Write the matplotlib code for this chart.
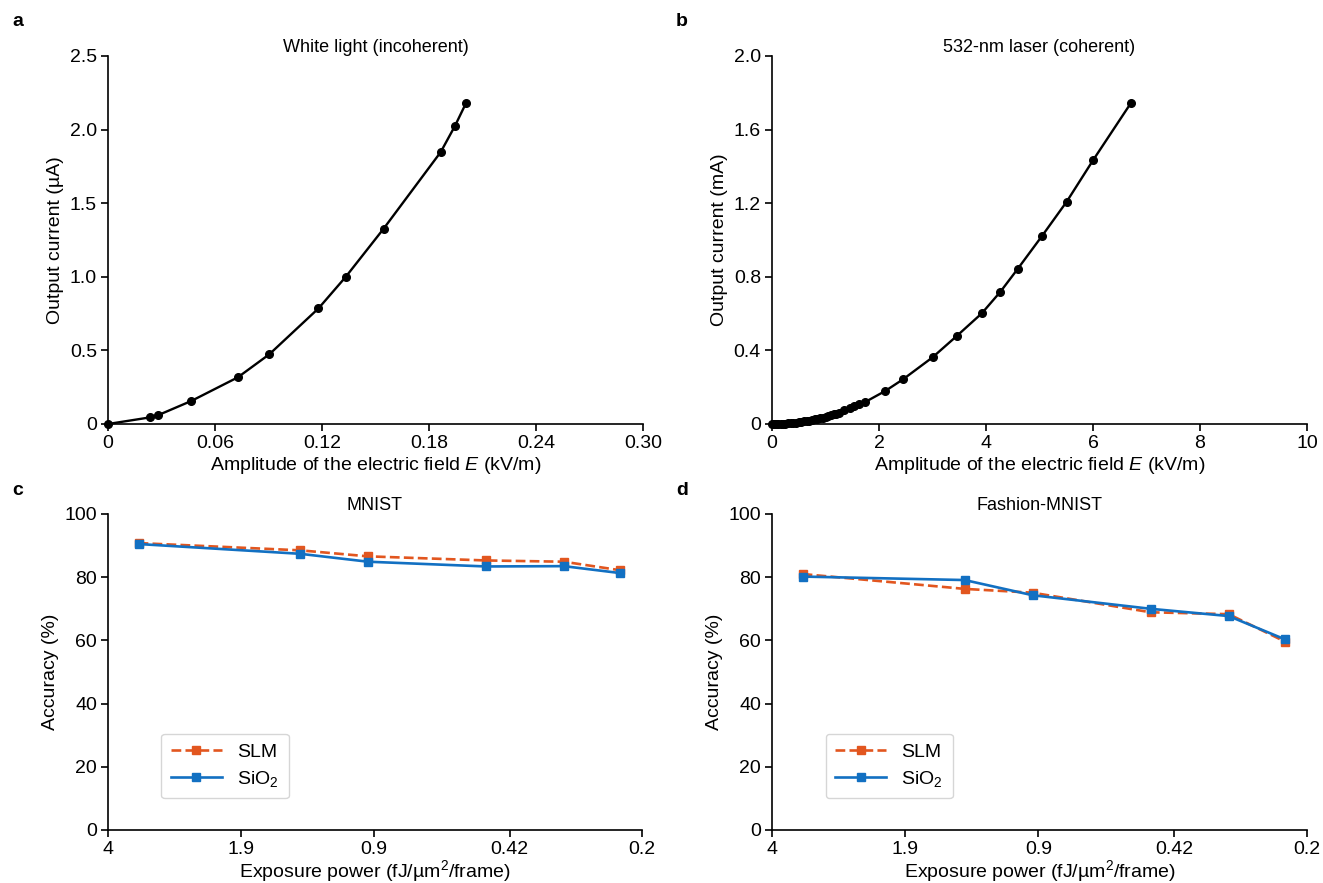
import matplotlib
matplotlib.use('Agg')
import matplotlib.pyplot as plt

plt.rcParams['font.family'] = ['Liberation Sans', 'DejaVu Sans']
plt.rcParams['mathtext.fontset'] = 'custom'
plt.rcParams['mathtext.rm'] = 'Liberation Sans'
plt.rcParams['mathtext.it'] = 'Liberation Sans:italic'
plt.rcParams['font.size'] = 13

# panel a: white light
white_E = [0, 0.0236, 0.0283, 0.0468, 0.0728, 0.0905, 0.118, 0.1332, 0.1545, 0.1866, 0.1946, 0.2008]
white_I = [0, 0.045, 0.061, 0.157, 0.317, 0.474, 0.785, 0.998, 1.326, 1.848, 2.026, 2.181]

# panel b: 532-nm laser
laser_E = [0.0, 0.03, 0.06, 0.09, 0.12, 0.16, 0.2, 0.25, 0.3, 0.35, 0.4, 0.45, 0.5, 0.55, 0.6,
           0.65, 0.7, 0.75, 0.8, 0.85, 0.9, 0.95, 1.0, 1.05, 1.1, 1.15, 1.2, 1.25,
           1.34, 1.45, 1.54, 1.635, 1.745, 2.12, 2.45, 3.0, 3.46, 3.92, 4.27, 4.59,
           5.05, 5.51, 6.0, 6.71]
laser_I = [0.0, 0.0, 0.0001, 0.0003, 0.0006, 0.001, 0.0016, 0.0024, 0.0035, 0.0048, 0.0062,
           0.0079, 0.0098, 0.0118, 0.014, 0.0165, 0.019, 0.022, 0.025, 0.028, 0.032,
           0.035, 0.039, 0.043, 0.047, 0.052, 0.056, 0.061, 0.074, 0.086, 0.097, 0.108,
           0.120, 0.180, 0.243, 0.362, 0.480, 0.601, 0.719, 0.842, 1.023, 1.209, 1.433, 1.745]

# panels c, d: accuracy vs exposure power
exposure = [3.37, 1.36, 0.93, 0.48, 0.31, 0.226]
exp_ticks = [4, 1.9, 0.9, 0.42, 0.2]
mnist_slm = [90.8, 88.5, 86.6, 85.3, 84.9, 82.2]
mnist_sio2 = [90.5, 87.4, 84.9, 83.4, 83.5, 81.3]
fashion_slm = [81.0, 76.3, 75.1, 68.9, 68.3, 59.6]
fashion_sio2 = [80.2, 79.1, 74.3, 70.0, 67.7, 60.3]

SLM_C = '#E2561F'
SIO2_C = '#1270C2'

W, H = 1323, 883
fig = plt.figure(figsize=(W / 100, H / 100), dpi=100)


def box(l, t, r, b):
    return [l / W, 1 - b / H, (r - l) / W, (b - t) / H]


def style(ax):
    for s in ['top', 'right']:
        ax.spines[s].set_visible(False)
    for s in ['left', 'bottom']:
        ax.spines[s].set_linewidth(1.2)
    ax.tick_params(direction='out', length=5, width=1.2, labelsize=14, pad=3)


ax_a = fig.add_axes(box(108, 56, 643, 424))
ax_b = fig.add_axes(box(772, 56, 1307, 424))
ax_c = fig.add_axes(box(108, 514, 642, 830))
ax_d = fig.add_axes(box(772, 514, 1307, 830))

LBL = 14

ax_a.plot(white_E, white_I, color='black', lw=1.7, marker='o', ms=5.5, clip_on=False, zorder=3)
ax_a.set_xlim(0, 0.30)
ax_a.set_ylim(0, 2.5)
ax_a.set_xticks([0, 0.06, 0.12, 0.18, 0.24, 0.30])
ax_a.set_xticklabels(['0', '0.06', '0.12', '0.18', '0.24', '0.30'])
ax_a.set_yticks([0, 0.5, 1.0, 1.5, 2.0, 2.5])
ax_a.set_yticklabels(['0', '0.5', '1.0', '1.5', '2.0', '2.5'])
ax_a.set_xlabel('Amplitude of the electric field $E$ (kV/m)', fontsize=LBL, labelpad=2)
ax_a.set_ylabel('Output current (µA)', fontsize=LBL)
ax_a.set_title('White light (incoherent)', fontsize=13, pad=3)

ax_b.plot(laser_E, laser_I, color='black', lw=1.7, marker='o', ms=5.5, clip_on=False, zorder=3)
ax_b.set_xlim(0, 10)
ax_b.set_ylim(0, 2.0)
ax_b.set_xticks([0, 2, 4, 6, 8, 10])
ax_b.set_yticks([0, 0.4, 0.8, 1.2, 1.6, 2.0])
ax_b.set_yticklabels(['0', '0.4', '0.8', '1.2', '1.6', '2.0'])
ax_b.set_xlabel('Amplitude of the electric field $E$ (kV/m)', fontsize=LBL, labelpad=2)
ax_b.set_ylabel('Output current (mA)', fontsize=LBL)
ax_b.set_title('532-nm laser (coherent)', fontsize=13, pad=3)

for ax, slm, sio2, title in [(ax_c, mnist_slm, mnist_sio2, 'MNIST'),
                             (ax_d, fashion_slm, fashion_sio2, 'Fashion-MNIST')]:
    ax.plot(exposure, slm, color=SLM_C, ls='--', lw=1.9, marker='s', ms=5.5, label='SLM')
    ax.plot(exposure, sio2, color=SIO2_C, ls='-', lw=1.9, marker='s', ms=5.5, label='SiO$_2$')
    ax.set_xscale('log')
    ax.set_xlim(4, 0.2)
    ax.set_xticks(exp_ticks)
    ax.set_xticklabels([str(v) for v in exp_ticks])
    ax.minorticks_off()
    ax.set_ylim(0, 100)
    ax.set_yticks([0, 20, 40, 60, 80, 100])
    ax.set_xlabel('Exposure power (fJ/µm$^2$/frame)', fontsize=LBL, labelpad=0)
    ax.set_ylabel('Accuracy (%)', fontsize=LBL)
    ax.set_title(title, fontsize=13, pad=3)
    ax.legend(loc='lower left', bbox_to_anchor=(0.10, 0.10), borderaxespad=0, fontsize=14,
              handlelength=2.6, borderpad=0.5, labelspacing=0.4, handletextpad=0.8,
              edgecolor='#cccccc', fancybox=True)

for ax in [ax_a, ax_b, ax_c, ax_d]:
    style(ax)

for x, y, s in [(12, 22, 'a'), (676, 22, 'b'), (12, 490, 'c'), (676, 490, 'd')]:
    fig.text(x / W, 1 - y / H, s, fontsize=14, fontweight='bold', va='center')

fig.savefig('out.png', dpi=100)
